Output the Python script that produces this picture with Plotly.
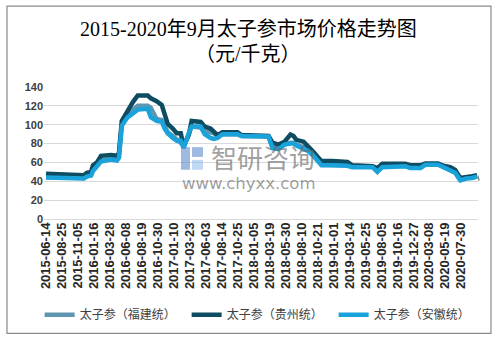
import plotly.graph_objects as go

# 太子参 prices by production area (元/千克)
dates = [
    "2015-06-14", "2015-08-20", "2015-10-27", "2015-12-02", "2015-12-15", "2016-01-03",
    "2016-01-12", "2016-01-30", "2016-02-17", "2016-04-02", "2016-04-29", "2016-05-08",
    "2016-05-21", "2016-06-04", "2016-06-17", "2016-07-10", "2016-08-01", "2016-09-15",
    "2016-09-29", "2016-10-25", "2016-11-17", "2016-11-30", "2016-12-14", "2017-01-06",
    "2017-01-24", "2017-02-11", "2017-02-24", "2017-03-19", "2017-04-01", "2017-05-12",
    "2017-05-30", "2017-06-25", "2017-07-09", "2017-07-27", "2017-08-18", "2017-10-25",
    "2017-11-12", "2018-03-14", "2018-04-01", "2018-04-28", "2018-05-25", "2018-06-21",
    "2018-07-05", "2018-07-18", "2018-08-19", "2018-09-10", "2018-10-03", "2018-10-21",
    "2018-11-08", "2018-12-27", "2019-03-05", "2019-03-27", "2019-06-26", "2019-07-18",
    "2019-08-09", "2019-11-21", "2019-12-13", "2020-01-28", "2020-02-19", "2020-04-17",
    "2020-05-10", "2020-06-11", "2020-07-03", "2020-07-26", "2020-08-22", "2020-09-17",
    "2020-10-10",
]

fujian = [
    44.5, 44, 43.5, 43.5, 45.5, 46.5, 52, 57, 62, 63.5, 62.5, 66,
    100, 106, 111, 116, 120, 120, 118, 106, 105, 100, 92, 88,
    84, 81, 78, 90, 98, 97, 93, 92, 91, 88, 90, 90,
    88, 87.5, 76, 75, 79, 81, 81, 79, 76, 72.5, 67.5, 62.5,
    57.5, 57.5, 57, 55.5, 55.5, 50.5, 55.5, 56.5, 54.5, 54.5, 58, 58,
    55.5, 52.5, 49.5, 41.5, 43.5, 44, 45.5,
]

guizhou = [
    48, 47.5, 46, 46.5, 49, 50, 57, 60, 67, 68, 67, 70,
    104, 110, 116, 124, 131, 131, 128, 125, 121, 112, 101, 96,
    91, 91, 77, 89, 104, 103, 98, 96, 93, 89, 92, 92,
    89, 88, 81, 79, 82, 89.5, 88, 84, 82, 77, 71, 66,
    61.5, 61.5, 60.5, 57, 56, 54, 58.5, 58.5, 57, 57, 59, 59,
    56.5, 55, 52, 43.5, 45, 45.5, 46.5,
]

anhui = [
    44, 43.5, 43, 43, 45, 46, 51, 56, 61, 63, 62, 65,
    99, 104, 108, 112, 116, 117, 108, 104, 103, 96, 91, 86,
    83, 83, 75, 91, 98, 98, 90, 86, 85, 86, 90, 90,
    88, 87.5, 75, 74, 79, 80, 80, 78, 75, 72, 67, 62,
    57, 57, 56.5, 55, 55, 50, 55, 56, 54, 54, 57.5, 57.5,
    55, 52, 49, 41, 43, 43.5, 45,
]

tick_dates = [
    "2015-06-14", "2015-08-25", "2015-11-05", "2016-01-16", "2016-03-28", "2016-06-08",
    "2016-08-19", "2016-10-30", "2017-01-10", "2017-03-23", "2017-06-03", "2017-08-14",
    "2017-10-25", "2018-01-05", "2018-03-19", "2018-05-30", "2018-08-10", "2018-10-21",
    "2019-01-01", "2019-03-14", "2019-05-25", "2019-08-05", "2019-10-16", "2019-12-27",
    "2020-03-08", "2020-05-19", "2020-07-30",
]

series = [
    ("太子参（福建统）", fujian, "#5f95b0"),
    ("太子参（贵州统）", guizhou, "#0e4c62"),
    ("太子参（安徽统）", anhui, "#1aa2da"),
]

x_range = ["2015-06-05", "2020-10-14"]
y_range = [0, 140]

fig = go.Figure()

# soft drop shadow under each line, on an axis pair nudged right/down
for name, vals, _ in series:
    fig.add_trace(go.Scatter(
        x=dates, y=vals, mode="lines", xaxis="x", yaxis="y",
        line=dict(color="rgba(0,0,0,0.22)", width=4.5),
        showlegend=False, hoverinfo="skip",
    ))

for name, vals, color in series:
    fig.add_trace(go.Scatter(
        x=dates, y=vals, mode="lines", name=name, xaxis="x2", yaxis="y2",
        line=dict(color=color, width=4.5),
    ))

tick_font = dict(family="Liberation Sans, Arial, sans-serif", size=13, color="#262626", weight="bold")

fig.update_layout(
    width=497, height=342,
    margin=dict(l=44, r=17, t=87, b=119),
    paper_bgcolor="white", plot_bgcolor="white",
    xaxis=dict(domain=[2 / 436, 1], range=x_range, type="date", visible=False),
    yaxis=dict(domain=[0, 134 / 136], range=y_range, visible=False),
    xaxis2=dict(
        domain=[0, 434 / 436], range=x_range, type="date", anchor="y2",
        tickvals=tick_dates, ticktext=tick_dates, tickangle=-90,
        tickfont=tick_font, showgrid=False, showline=False, ticks="",
    ),
    yaxis2=dict(
        domain=[2 / 136, 1], range=y_range, anchor="x2", dtick=20,
        showgrid=True, gridcolor="#d9d9d9", gridwidth=1,
        zeroline=True, zerolinecolor="#d9d9d9", zerolinewidth=1,
        showline=False, ticks="",
        tickfont=dict(family="Liberation Sans, Arial, sans-serif", size=11, color="#404040", weight="bold"),
    ),
    showlegend=True,
    legend=dict(
        orientation="h", x=-0.01, xanchor="left", y=-0.699, yanchor="middle",
        font=dict(family="Noto Sans CJK SC", size=12, color="#404040"),
        entrywidth=102, entrywidthmode="pixels",
        bgcolor="rgba(0,0,0,0)",
    ),
)

title_font = dict(family="Liberation Serif, Noto Sans CJK SC, serif", size=20, color="#000000")
fig.add_annotation(text="2015-2020年9月太子参市场价格走势图", xref="paper", yref="paper",
                   x=0.469, y=1.43, xanchor="center", yanchor="middle",
                   showarrow=False, font=title_font)
fig.add_annotation(text="（元/千克）", xref="paper", yref="paper",
                   x=0.469, y=1.25, xanchor="center", yanchor="middle",
                   showarrow=False, font=title_font)

# watermark
fig.add_annotation(text="智研咨询", xref="paper", yref="paper", x=0.502, y=0.478,
                   xanchor="center", yanchor="middle", showarrow=False,
                   font=dict(family="Noto Sans CJK SC", size=26, color="rgba(105,105,105,0.65)"))
fig.add_annotation(text="www.chyxx.com", xref="paper", yref="paper", x=0.470, y=0.280,
                   xanchor="center", yanchor="middle", showarrow=False,
                   font=dict(family="DejaVu Sans", size=16.5, color="rgba(105,105,105,0.65)"))
fig.add_shape(type="rect", xref="paper", yref="paper", x0=0.3142, x1=0.3349, y0=0.3824, y1=0.5515,
              line=dict(width=0), fillcolor="rgba(95,140,205,0.6)")
fig.add_shape(type="rect", xref="paper", yref="paper", x0=0.3394, x1=0.3647, y0=0.478, y1=0.5515,
              line=dict(width=0), fillcolor="rgba(95,140,205,0.6)")
fig.add_shape(type="rect", xref="paper", yref="paper", x0=0.3394, x1=0.3647, y0=0.3824, y1=0.4559,
              line=dict(width=0), fillcolor="rgba(140,185,235,0.55)")

# outer frame
fig.add_shape(type="rect", xref="paper", yref="paper", x0=-0.0849, x1=1.0252, y0=-0.838, y1=1.603,
              line=dict(color="#8a8a8a", width=1.2), fillcolor="rgba(0,0,0,0)")

fig.write_html("out.html")
